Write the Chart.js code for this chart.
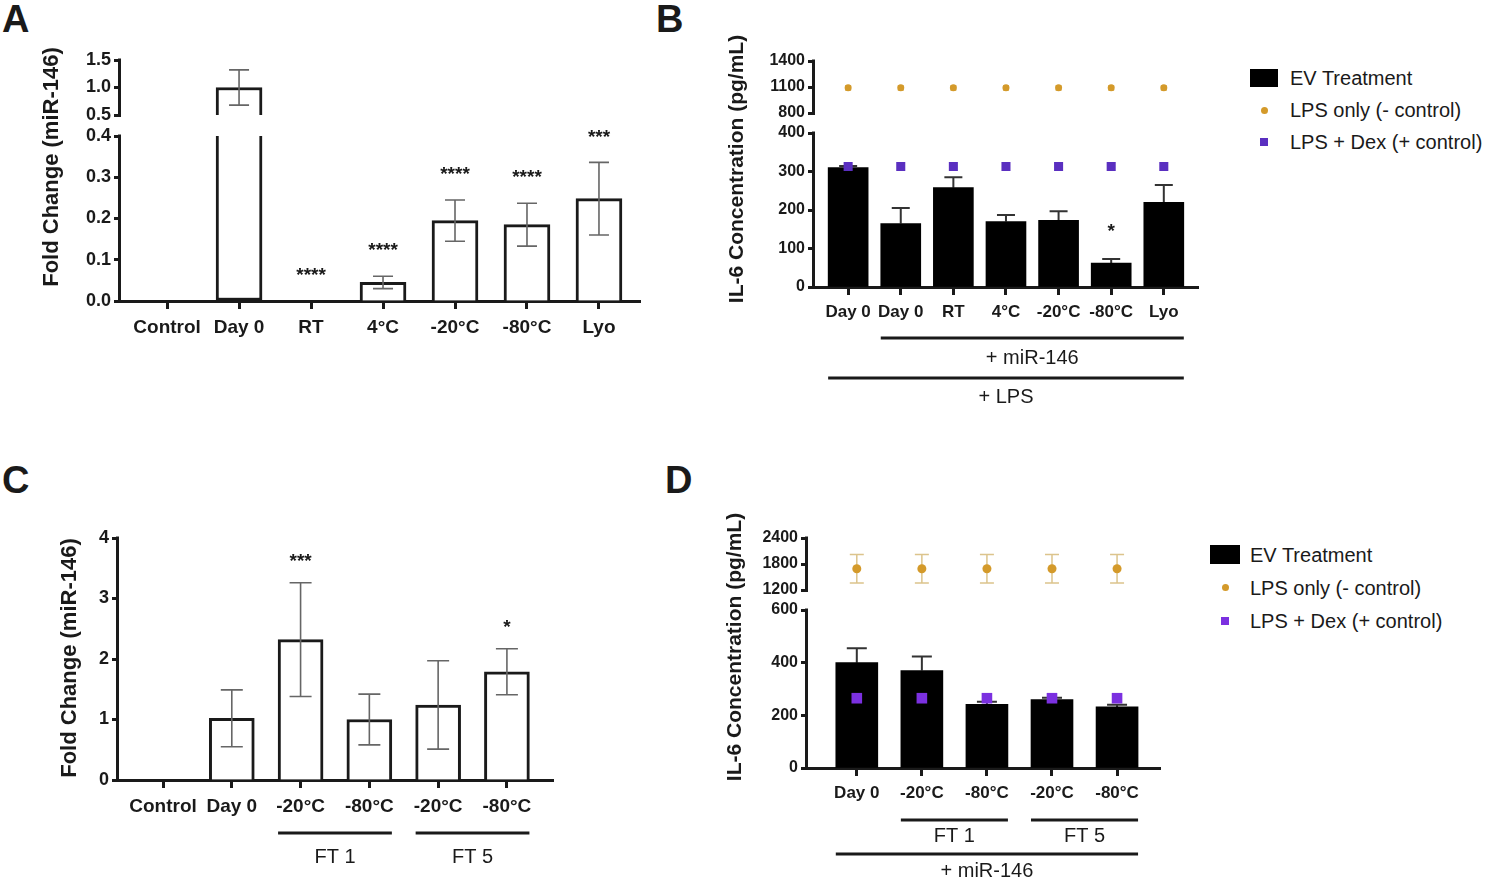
<!DOCTYPE html>
<html>
<head>
<meta charset="utf-8">
<title>miR-146 EV storage</title>
<script src="https://cdn.jsdelivr.net/npm/chart.js@4.4.1/dist/chart.umd.min.js"></script>
<style>
  body { margin: 0; width: 1500px; height: 887px; background: #fff; position: relative; overflow: hidden;
         font-family: "Liberation Sans", Arial, sans-serif; color: #1a1a1a; }
  .box { position: absolute; }
  .letter { position: absolute; font-size: 38px; font-weight: bold; line-height: 1; }
  .legend { position: absolute; font-size: 20px; line-height: 1; }
  .legend .row { display: flex; align-items: center; }
  .legend .mk { display: flex; justify-content: center; align-items: center; }
</style>
</head>
<body>
<div class="letter" style="left:2px;top:0px">A</div>
<div class="letter" style="left:656px;top:0px">B</div>
<div class="letter" style="left:2px;top:461px">C</div>
<div class="letter" style="left:665px;top:461px">D</div>

<div class="box" style="left:0px;top:0px"><canvas id="chartA" width="650" height="350"></canvas></div>
<div class="box" style="left:640px;top:0px"><canvas id="chartB" width="570" height="420"></canvas></div>
<div class="box" style="left:0px;top:460px"><canvas id="chartC" width="570" height="420"></canvas></div>
<div class="box" style="left:660px;top:460px"><canvas id="chartD" width="520" height="427"></canvas></div>

<div class="legend" style="left:1250px;top:62px">
  <div class="row" style="height:32px"><span class="mk" style="width:28px"><span style="width:28px;height:18px;background:#000"></span></span><span style="margin-left:12px">EV Treatment</span></div>
  <div class="row" style="height:32px"><span class="mk" style="width:28px"><span style="width:7px;height:7px;border-radius:50%;background:#d49a2a"></span></span><span style="margin-left:12px">LPS only (- control)</span></div>
  <div class="row" style="height:32px"><span class="mk" style="width:28px"><span style="width:8px;height:8px;background:#5a2fc0"></span></span><span style="margin-left:12px">LPS + Dex (+ control)</span></div>
</div>
<div class="legend" style="left:1210px;top:538px">
  <div class="row" style="height:33px"><span class="mk" style="width:30px"><span style="width:30px;height:19px;background:#000"></span></span><span style="margin-left:10px">EV Treatment</span></div>
  <div class="row" style="height:33px"><span class="mk" style="width:30px"><span style="width:7px;height:7px;border-radius:50%;background:#d49a2a"></span></span><span style="margin-left:10px">LPS only (- control)</span></div>
  <div class="row" style="height:33px"><span class="mk" style="width:30px"><span style="width:8px;height:8px;background:#7b30e0"></span></span><span style="margin-left:10px">LPS + Dex (+ control)</span></div>
</div>

<script>
Chart.defaults.font.family = '"Liberation Sans", Arial, sans-serif';
Chart.defaults.color = '#1a1a1a';
const ink = '#1a1a1a';

// A - miR-146 fold change after storage
const labelsA = ['Control', 'Day 0', 'RT', '4°C', '-20°C', '-80°C', 'Lyo'];
const foldA = [0, 1.0, 0, 0.045, 0.195, 0.185, 0.248];
const foldSdA = [0, 0.32, 0, 0.015, 0.05, 0.052, 0.088];
const starsA = ['', '', '****', '****', '****', '****', '***'];
const ticksLowA = [0, 0.1, 0.2, 0.3, 0.4];
const ticksUpA = [0.5, 1.0, 1.5];

// B - IL-6 after LPS, EVs stored different ways
const labelsB = ['Day 0', 'Day 0', 'RT', '4°C', '-20°C', '-80°C', 'Lyo'];
const il6B = [310, 165, 258, 170, 173, 62, 220];
const il6SdB = [4, 40, 27, 17, 24, 11, 45];
const lpsB = [1090, 1090, 1090, 1090, 1090, 1090, 1090];
const lpsSdB = [25, 25, 25, 25, 25, 25, 25];
const dexB = [313, 313, 313, 313, 313, 313, 313];
const starsB = ['', '', '', '', '', '*', ''];
const ticksLowB = [0, 100, 200, 300, 400];
const ticksUpB = [800, 1100, 1400];
const groupsB = [
  { label: '+ miR-146', from: 1, to: 6 },
  { label: '+ LPS', from: 0, to: 6 }
];

// C - freeze/thaw cycles
const labelsC = ['Control', 'Day 0', '-20°C', '-80°C', '-20°C', '-80°C'];
const foldC = [0, 1.02, 2.32, 1.0, 1.24, 1.79];
const foldSdC = [0, 0.47, 0.94, 0.42, 0.73, 0.38];
const starsC = ['', '', '***', '', '', '*'];
const ticksC = [0, 1, 2, 3, 4];
const groupsC = [
  { label: 'FT 1', from: 2, to: 3 },
  { label: 'FT 5', from: 4, to: 5 }
];

// D - IL-6 after freeze/thaw
const labelsD = ['Day 0', '-20°C', '-80°C', '-20°C', '-80°C'];
const il6D = [400, 370, 242, 260, 232];
const il6SdD = [55, 53, 10, 7, 8];
const lpsD = [1690, 1690, 1690, 1690, 1690];
const lpsSdD = [330, 330, 330, 330, 330];
const dexD = [265, 265, 265, 265, 265];
const starsD = ['', '', '', '', ''];
const ticksLowD = [0, 200, 400, 600];
const ticksUpD = [1200, 1800, 2400];
const groupsD = [
  { label: 'FT 1', from: 1, to: 2 },
  { label: 'FT 5', from: 3, to: 4 },
  { label: '+ miR-146', from: 0, to: 4 }
];

function errBar(ctx, x, yTop, yBot, cap) {
  ctx.beginPath();
  ctx.moveTo(x, yTop); ctx.lineTo(x, yBot);
  ctx.moveTo(x - cap / 2, yTop); ctx.lineTo(x + cap / 2, yTop);
  if (yBot !== yTop) { ctx.moveTo(x - cap / 2, yBot); ctx.lineTo(x + cap / 2, yBot); }
  ctx.stroke();
}

function buildPanel(canvasId, d, look) {
  const broken = Array.isArray(d.ticksUp);
  const lowMax = d.ticksLow[d.ticksLow.length - 1];
  const upMin = broken ? d.ticksUp[0] : null;
  const upMax = broken ? d.ticksUp[d.ticksUp.length - 1] : null;
  const axisFor = v => (broken && v > lowMax ? 'yUp' : 'yLow');
  const tickFont = { size: look.tickSize, weight: 'bold' };
  const yTickFont = { size: look.yTickSize, weight: 'bold' };
  const fmt = v => (look.decimals ? v.toFixed(look.decimals) : String(v));

  const datasets = [{
    type: 'bar',
    label: 'EV Treatment',
    data: d.bars.map((v, i) => ({ x: i, y: Math.min(v, lowMax) })),
    yAxisID: 'yLow',
    grouped: false,
    barThickness: look.barW,
    backgroundColor: look.barFill,
    borderColor: ink,
    borderWidth: look.barBorder,
    borderSkipped: c => (d.bars[c.dataIndex] > lowMax ? 'top' : 'bottom'),
    order: 2
  }];
  if (broken) {
    datasets.push({
      type: 'bar',
      label: 'EV Treatment (upper)',
      data: d.bars.map((v, i) => ({ x: i, y: v > upMin ? [upMin, v] : null })),
      yAxisID: 'yUp',
      grouped: false,
      barThickness: look.barW,
      backgroundColor: look.barFill,
      borderColor: ink,
      borderWidth: look.barBorder,
      borderSkipped: 'bottom',
      order: 2
    });
  }
  if (d.lps) {
    datasets.push({
      type: 'line',
      label: 'LPS only (- control)',
      data: d.lps.map((v, i) => ({ x: i, y: v })),
      yAxisID: axisFor(d.lps[0]),
      showLine: false,
      pointStyle: 'circle',
      pointRadius: look.lpsR,
      pointBackgroundColor: look.orange,
      pointBorderWidth: 0,
      order: 0
    });
  }
  if (d.dex) {
    datasets.push({
      type: 'line',
      label: 'LPS + Dex (+ control)',
      data: d.dex.map((v, i) => ({ x: i, y: v })),
      yAxisID: axisFor(d.dex[0]),
      showLine: false,
      pointStyle: 'rect',
      pointRadius: look.dexR,
      pointBackgroundColor: look.purple,
      pointBorderWidth: 0,
      order: 0
    });
  }

  const yAxis = (ticks, min, max) => ({
    type: 'linear',
    position: 'left',
    min: min,
    max: max,
    afterBuildTicks: s => { s.ticks = ticks.map(v => ({ value: v })); },
    ticks: { callback: fmt, autoSkip: false, font: yTickFont, color: ink, padding: 3 },
    grid: { drawOnChartArea: false, tickLength: 7, tickWidth: 3, tickColor: ink },
    border: { display: false },
    afterFit: s => { s.width = look.yWidth; }
  });

  const scales = {
    x: {
      type: 'linear',
      offset: false,
      min: -look.xPad[0],
      max: d.labels.length - 1 + look.xPad[1],
      afterBuildTicks: s => { s.ticks = d.labels.map((_, i) => ({ value: i })); },
      ticks: { callback: v => d.labels[v], autoSkip: false, maxRotation: 0, font: tickFont, color: ink, padding: 7 },
      grid: { offset: false, drawOnChartArea: false, tickLength: 8, tickWidth: 3, tickColor: ink },
      border: { display: true, color: ink, width: 3 },
      afterFit: s => { s.height = look.xHeight; }
    },
    yLow: yAxis(d.ticksLow, 0, lowMax)
  };
  if (broken) {
    scales.yLow.stack = 'y';
    scales.yLow.stackWeight = look.lowPx;
    scales.yLow.weight = 1;
    scales.yUp = yAxis(d.ticksUp, upMin - look.gapPx / look.upPx * (upMax - upMin), upMax);
    scales.yUp.stack = 'y';
    scales.yUp.stackWeight = look.gapPx + look.upPx;
    scales.yUp.weight = 2;
  }

  function drawBarErrors(chart) {
    const ctx = chart.ctx, xs = chart.scales.x;
    ctx.save();
    ctx.strokeStyle = look.errColor;
    ctx.lineWidth = look.errW;
    d.bars.forEach((v, i) => {
      const sd = d.barSd[i];
      if (!sd) return;
      const ys = chart.scales[axisFor(v)];
      const x = xs.getPixelForValue(i);
      const top = ys.getPixelForValue(v + sd);
      const bot = look.errBoth ? ys.getPixelForValue(v - sd) : ys.getPixelForValue(v);
      if (look.errBoth) errBar(ctx, x, top, bot, look.cap);
      else {
        ctx.beginPath();
        ctx.moveTo(x, bot); ctx.lineTo(x, top);
        ctx.moveTo(x - look.cap / 2, top); ctx.lineTo(x + look.cap / 2, top);
        ctx.stroke();
      }
    });
    ctx.restore();
  }

  const decor = {
    id: 'decor',
    beforeDatasetsDraw(chart) {
      const ctx = chart.ctx, xs = chart.scales.x;
      if (d.lps && d.lpsSd) {
        ctx.save();
        ctx.strokeStyle = look.lpsErrColor;
        ctx.lineWidth = 1.5;
        d.lps.forEach((v, i) => {
          const ys = chart.scales[axisFor(v)];
          errBar(ctx, xs.getPixelForValue(i), ys.getPixelForValue(v + d.lpsSd[i]),
                 ys.getPixelForValue(v - d.lpsSd[i]), look.lpsCap);
        });
        ctx.restore();
      }
      if (look.errBehind) drawBarErrors(chart);
    },
    afterDatasetsDraw(chart) {
      if (!look.errBehind) drawBarErrors(chart);
    },
    afterDraw(chart) {
      const ctx = chart.ctx, ca = chart.chartArea, xs = chart.scales.x;
      ctx.save();
      // broken y axis lines
      ctx.strokeStyle = ink;
      ctx.lineWidth = 3;
      const L = ca.left - 1.5;
      const seg = (s, a, b) => {
        ctx.beginPath();
        ctx.moveTo(L, s.getPixelForValue(a) + 1.5);
        ctx.lineTo(L, s.getPixelForValue(b) - 1.5);
        ctx.stroke();
      };
      seg(chart.scales.yLow, 0, lowMax);
      if (broken) seg(chart.scales.yUp, upMin, upMax);

      // significance marks
      ctx.fillStyle = ink;
      ctx.textAlign = 'center';
      ctx.textBaseline = 'middle';
      ctx.font = 'bold 19px "Liberation Sans", Arial, sans-serif';
      d.stars.forEach((t, i) => {
        if (!t) return;
        const v = d.bars[i] + d.barSd[i];
        const y = chart.scales[axisFor(v)].getPixelForValue(v) - look.starGap;
        ctx.fillText(t, xs.getPixelForValue(i), y);
      });

      // y title
      ctx.save();
      ctx.translate(look.titleX, look.titleY);
      ctx.rotate(-Math.PI / 2);
      ctx.font = 'bold ' + look.titleSize + 'px "Liberation Sans", Arial, sans-serif';
      ctx.fillText(look.title, 0, 0);
      ctx.restore();

      // group brackets under the x axis
      ctx.font = '20px "Liberation Sans", Arial, sans-serif';
      (d.groups || []).forEach((g, k) => {
        const row = look.rows[look.rowOf[k]];
        const x1 = xs.getPixelForValue(g.from) - look.barW / 2;
        const x2 = xs.getPixelForValue(g.to) + look.barW / 2;
        ctx.fillRect(x1, ca.bottom + row.line - 1.5, x2 - x1, 3);
        ctx.fillText(g.label, (x1 + x2) / 2, ca.bottom + row.text);
      });
      ctx.restore();
    }
  };

  return new Chart(document.getElementById(canvasId), {
    type: 'bar',
    data: { datasets: datasets },
    options: {
      responsive: false,
      animation: false,
      layout: { padding: { left: 0, top: look.padTop, right: look.padRight, bottom: 0 } },
      plugins: { legend: { display: false }, tooltip: { enabled: false } },
      scales: scales
    },
    plugins: [decor]
  });
}

buildPanel('chartA',
  { labels: labelsA, bars: foldA, barSd: foldSdA, stars: starsA, ticksLow: ticksLowA, ticksUp: ticksUpA },
  { padTop: 60, padRight: 10, yWidth: 121, xHeight: 49, lowPx: 165, gapPx: 21, upPx: 55,
    xPad: [0.64, 0.57], barW: 46, barFill: '#ffffff', barBorder: 3, errColor: '#666', errW: 1.6, cap: 20,
    errBoth: true, errBehind: false, starGap: 25, tickSize: 19, yTickSize: 18, decimals: 1,
    title: 'Fold Change (miR-146)', titleX: 52, titleY: 167, titleSize: 22 });

buildPanel('chartB',
  { labels: labelsB, bars: il6B, barSd: il6SdB, stars: starsB, lps: lpsB, lpsSd: lpsSdB, dex: dexB,
    ticksLow: ticksLowB, ticksUp: ticksUpB, groups: groupsB },
  { padTop: 61, padRight: 12, yWidth: 175, xHeight: 133, lowPx: 154, gapPx: 20, upPx: 52,
    xPad: [0.63, 0.65], barW: 40, barFill: '#000000', barBorder: 0, errColor: '#333', errW: 2, cap: 18,
    errBoth: false, errBehind: true, starGap: 27, tickSize: 17, yTickSize: 16, decimals: 0,
    orange: '#d49a2a', purple: '#5a2fc0', lpsR: 3.5, dexR: 6.4, lpsErrColor: '#d9b870', lpsCap: 6,
    title: 'IL-6 Concentration (pg/mL)', titleX: 97, titleY: 169, titleSize: 21,
    rows: [{ line: 51, text: 71 }, { line: 91, text: 110 }], rowOf: [0, 1] });

buildPanel('chartC',
  { labels: labelsC, bars: foldC, barSd: foldSdC, stars: starsC, ticksLow: ticksC, groups: groupsC },
  { padTop: 78, padRight: 17, yWidth: 119, xHeight: 100,
    xPad: [0.64, 0.67], barW: 45, barFill: '#ffffff', barBorder: 3, errColor: '#666', errW: 1.6, cap: 22,
    errBoth: true, errBehind: false, starGap: 21, tickSize: 19, yTickSize: 18, decimals: 0,
    title: 'Fold Change (miR-146)', titleX: 70, titleY: 198, titleSize: 22,
    rows: [{ line: 53, text: 77 }], rowOf: [0, 0] });

buildPanel('chartD',
  { labels: labelsD, bars: il6D, barSd: il6SdD, stars: starsD, lps: lpsD, lpsSd: lpsSdD, dex: dexD,
    ticksLow: ticksLowD, ticksUp: ticksUpD, groups: groupsD },
  { padTop: 78, padRight: 20, yWidth: 148, xHeight: 119, lowPx: 158, gapPx: 20, upPx: 52,
    xPad: [0.75, 0.66], barW: 42, barFill: '#000000', barBorder: 0, errColor: '#333', errW: 2, cap: 20,
    errBoth: false, errBehind: true, starGap: 27, tickSize: 17, yTickSize: 16, decimals: 0,
    orange: '#d49a2a', purple: '#7b30e0', lpsR: 4.5, dexR: 7.5, lpsErrColor: '#dcc48c', lpsCap: 14,
    title: 'IL-6 Concentration (pg/mL)', titleX: 75, titleY: 187, titleSize: 21,
    rows: [{ line: 52, text: 68 }, { line: 86, text: 103 }], rowOf: [0, 0, 1] });
</script>
</body>
</html>
